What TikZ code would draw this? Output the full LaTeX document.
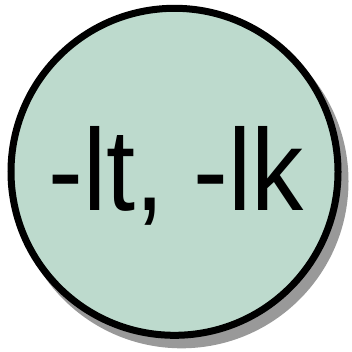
\documentclass[tikz,border=0pt]{standalone}
\usepackage{fontspec}
\setmainfont[FakeStretch=0.9]{Liberation Sans}
\usetikzlibrary{positioning}
\definecolor{mintgreen}{HTML}{BDDACD}
\definecolor{shadowgray}{HTML}{999999}

\begin{document}
\begin{tikzpicture}[x=1pt,y=1pt]
        \useasboundingbox (0,0) rectangle (352,351);
        % Drop shadow
        \fill[shadowgray] (181.5,169.7) circle (167);
        % Library disc
        \node[circle, draw=black, line width=7pt, fill=mintgreen,
          minimum size=327pt, inner sep=0pt] (lib) at (174.5,179.2) {};
        % Flags
        \node[anchor=base, inner sep=0pt, font=\fontsize{116}{116}\selectfont]
          (flags) at ([xshift=1.5pt,yshift=-38.2pt]lib.center) {-lt, -lk};
      \end{tikzpicture}
\end{document}
